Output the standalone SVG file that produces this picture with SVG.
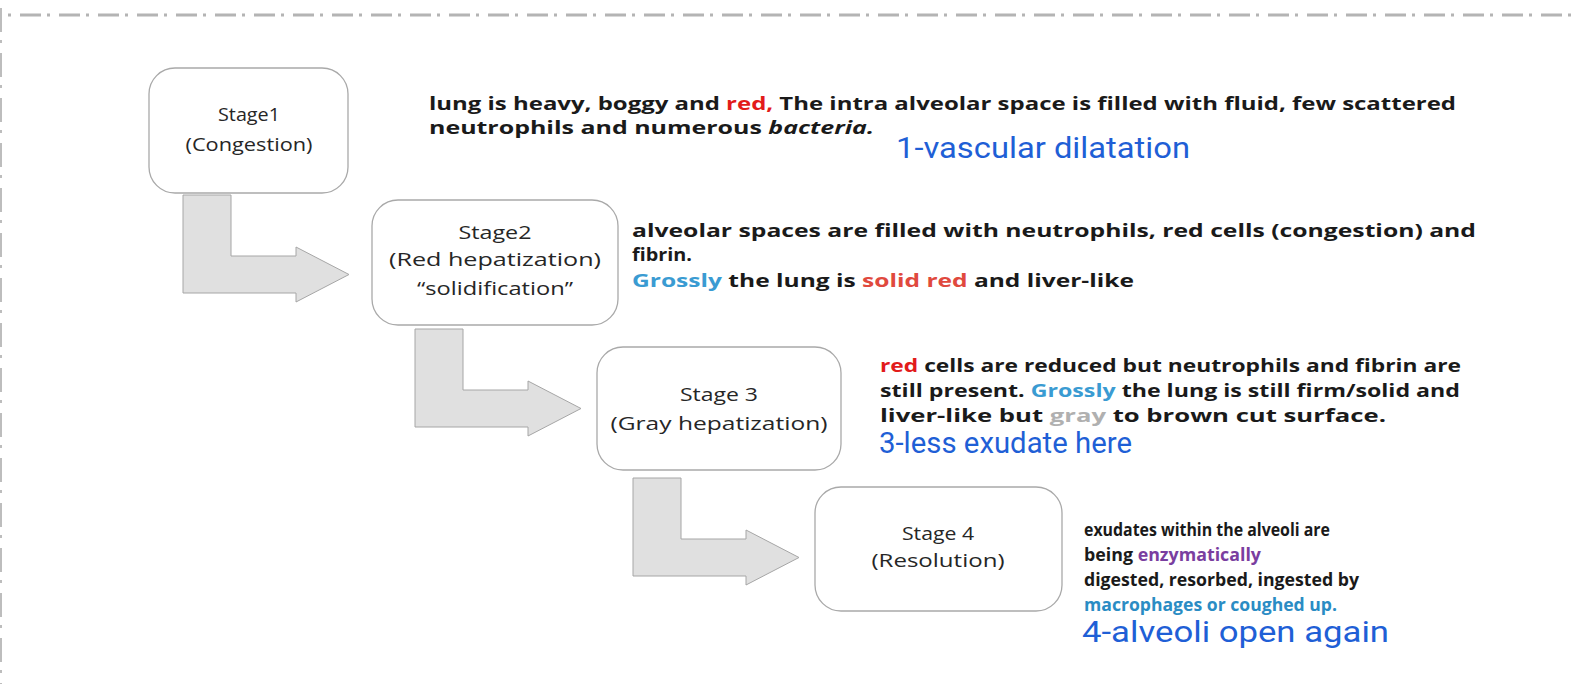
<svg xmlns="http://www.w3.org/2000/svg" width="1578" height="684" viewBox="0 0 1578 684">
<style>
.bg{fill:#ffffff}
.frame-top{stroke:#b4b4b4;stroke-width:3;fill:none;stroke-dasharray:21 6 3 9;stroke-dashoffset:19}
.frame-left{stroke:#bdbdbd;stroke-width:2;fill:none;stroke-dasharray:24 8 3 10;stroke-dashoffset:37}
.box{fill:#ffffff;stroke:#a9a9a9;stroke-width:1.3}
.lbl{font-family:"Open Sans","Liberation Sans",sans-serif;font-size:18px;fill:#262626;text-anchor:middle}
.desc{font-family:"Open Sans","Liberation Sans",sans-serif;font-size:17px;font-weight:700;fill:#1a1a1a}
.note{font-family:Roboto,"Liberation Sans",sans-serif;font-weight:400;fill:#1f5fd6}
.arrow{fill:#e0e0e0;stroke:#a6a6a6;stroke-width:1}
.red{fill:#e21b1b}
.coral{fill:#e0493e}
.sky{fill:#3a9bd2}
.gray{fill:#b0b0b0}
.purple{fill:#7a3ea0}
.teal{fill:#2a8cc4}
</style>
<rect class="bg" x="0" y="0" width="1578" height="684"/>
<g id="frame">
<line class="frame-top" x1="0" y1="15" x2="1578" y2="15"/>
<line class="frame-left" x1="1" y1="0" x2="1" y2="684"/>
</g>
<g id="connectors">
<polygon class="arrow" points="183,195 231,195 231,256 296,256 296,247 349,274.5 296,302 296,293 183,293"/>
<polygon class="arrow" points="415,329 463,329 463,390 528,390 528,381 581,408.5 528,436 528,427 415,427"/>
<polygon class="arrow" points="633,478 681,478 681,539 746,539 746,530 799,557.5 746,585 746,576 633,576"/>
</g>
<g id="stage1">
<rect class="box" x="149" y="68" width="199" height="125" rx="26" ry="26"/>
<text class="lbl" x="249" y="121" textLength="62" lengthAdjust="spacingAndGlyphs">Stage1</text>
<text class="lbl" x="249" y="151" textLength="127" lengthAdjust="spacingAndGlyphs">(Congestion)</text>
<text class="desc" x="429" y="110" textLength="1027" lengthAdjust="spacingAndGlyphs">lung is heavy, boggy and <tspan class="red">red,</tspan> The intra alveolar space is filled with fluid, few scattered</text>
<text class="desc" x="429" y="134" textLength="445" lengthAdjust="spacingAndGlyphs">neutrophils and numerous <tspan font-style="italic">bacteria.</tspan></text>
<text class="note" x="896" y="158" font-size="30" textLength="294" lengthAdjust="spacingAndGlyphs">1-vascular dilatation</text>
</g>
<g id="stage2">
<rect class="box" x="372" y="200" width="246" height="125" rx="26" ry="26"/>
<text class="lbl" x="495" y="239" textLength="73" lengthAdjust="spacingAndGlyphs">Stage2</text>
<text class="lbl" x="495" y="266" textLength="212" lengthAdjust="spacingAndGlyphs">(Red hepatization)</text>
<text class="lbl" x="495" y="295" textLength="156" lengthAdjust="spacingAndGlyphs">“solidification”</text>
<text class="desc" x="632" y="237" textLength="844" lengthAdjust="spacingAndGlyphs">alveolar spaces are filled with neutrophils, red cells (congestion) and</text>
<text class="desc" x="632" y="261" textLength="60" lengthAdjust="spacingAndGlyphs">fibrin.</text>
<text class="desc" x="632" y="287" textLength="502" lengthAdjust="spacingAndGlyphs"><tspan class="sky">Grossly</tspan> the lung is <tspan class="coral">solid red</tspan> and liver-like</text>
</g>
<g id="stage3">
<rect class="box" x="597" y="347" width="244" height="123" rx="26" ry="26"/>
<text class="lbl" x="719" y="401" textLength="78" lengthAdjust="spacingAndGlyphs">Stage 3</text>
<text class="lbl" x="719" y="430" textLength="217" lengthAdjust="spacingAndGlyphs">(Gray hepatization)</text>
<text class="desc" x="880" y="372" textLength="581" lengthAdjust="spacingAndGlyphs"><tspan class="red">red</tspan> cells are reduced but neutrophils and fibrin are</text>
<text class="desc" x="880" y="397" textLength="580" lengthAdjust="spacingAndGlyphs">still present. <tspan class="sky">Grossly</tspan> the lung is still firm/solid and</text>
<text class="desc" x="880" y="422" textLength="506" lengthAdjust="spacingAndGlyphs">liver-like but <tspan class="gray">gray</tspan> to brown cut surface.</text>
<text class="note" x="879" y="453" font-size="29" textLength="253" lengthAdjust="spacingAndGlyphs">3-less exudate here</text>
</g>
<g id="stage4">
<rect class="box" x="815" y="487" width="247" height="124" rx="26" ry="26"/>
<text class="lbl" x="938" y="540" textLength="72" lengthAdjust="spacingAndGlyphs">Stage 4</text>
<text class="lbl" x="938" y="567" textLength="133" lengthAdjust="spacingAndGlyphs">(Resolution)</text>
<text class="desc" x="1084" y="536" textLength="246" lengthAdjust="spacingAndGlyphs">exudates within the alveoli are</text>
<text class="desc" x="1084" y="561" textLength="177" lengthAdjust="spacingAndGlyphs">being <tspan class="purple">enzymatically</tspan></text>
<text class="desc" x="1084" y="586" textLength="275" lengthAdjust="spacingAndGlyphs">digested, resorbed, ingested by</text>
<text class="desc teal" x="1084" y="611" textLength="253" lengthAdjust="spacingAndGlyphs">macrophages or coughed up.</text>
<text class="note" x="1082" y="642" font-size="30" textLength="307" lengthAdjust="spacingAndGlyphs">4-alveoli open again</text>
</g>
</svg>
